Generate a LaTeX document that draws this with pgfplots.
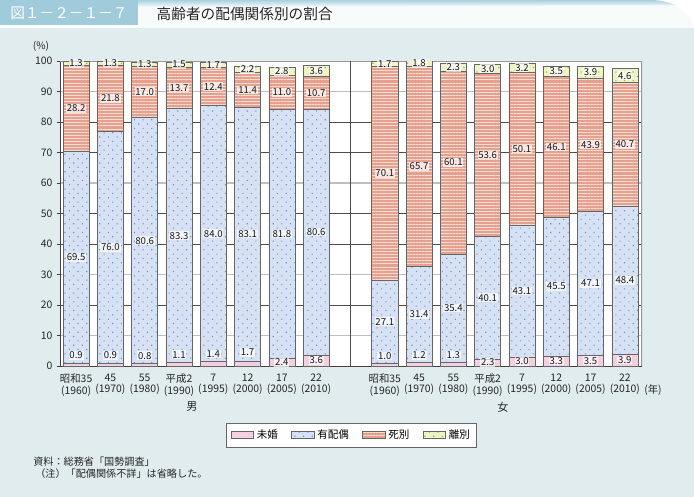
\documentclass[border=0pt]{standalone}
\usepackage{fontspec}
\setmainfont{Noto Sans CJK JP}
\usepackage{pgfplots}
\pgfplotsset{compat=1.18}
\usepackage{pgfplotstable}
\usetikzlibrary{patterns.meta}

\definecolor{panelbg}{HTML}{E1ECEF}
\definecolor{titlebox}{HTML}{9FCBDA}
\definecolor{bandblue}{HTML}{A9D2DE}
\definecolor{cMi}{HTML}{F3D0E0}
\definecolor{cYu}{HTML}{D6E2F4}
\definecolor{cYuDot}{HTML}{6F90D5}
\definecolor{cShi}{HTML}{E5A08E}
\definecolor{cShiLine}{HTML}{F8DDD5}
\definecolor{cRi}{HTML}{EFF4C6}
\definecolor{cRiDot}{HTML}{8DB83A}

\pgfplotstableread{
x  mi  yu   shi  ri
0  0.9 69.5 28.2 1.3
1  0.9 76.0 21.8 1.3
2  0.8 80.6 17.0 1.3
3  1.1 83.3 13.7 1.5
4  1.4 84.0 12.4 1.7
5  1.7 83.1 11.4 2.2
6  2.4 81.8 11.0 2.8
7  3.6 80.6 10.7 3.6
9  1.0 27.1 70.1 1.7
10 1.2 31.4 65.7 1.8
11 1.3 35.4 60.1 2.3
12 2.3 40.1 53.6 3.0
13 3.0 43.1 50.1 3.2
14 3.3 45.5 46.1 3.5
15 3.5 47.1 43.9 3.9
16 3.9 48.4 40.7 4.6
}\data

\pgfplotstableread{
x  y     l
0  3.5   0.9
1  3.5   0.9
2  3.4   0.8
3  3.7   1.1
4  4.0   1.4
5  4.4   1.7
6  1.2   2.4
7  1.8   3.6
9  3.3   1.0
10 3.5   1.2
11 3.6   1.3
12 1.15  2.3
13 1.5   3.0
14 1.65  3.3
15 1.75  3.5
16 1.95  3.9
0  35.65 69.5
1  38.9  76.0
2  41.1  80.6
3  42.75 83.3
4  43.4  84.0
5  43.25 83.1
6  43.3  81.8
7  43.9  80.6
9  14.55 27.1
10 16.9  31.4
11 19.0  35.4
12 22.35 40.1
13 24.55 43.1
14 26.05 45.5
15 27.05 47.1
16 28.1  48.4
0  84.5  28.2
1  87.8  21.8
2  89.9  17.0
3  91.25 13.7
4  91.6  12.4
5  90.5  11.4
6  89.7  11.0
7  89.55 10.7
9  63.15 70.1
10 65.45 65.7
11 66.75 60.1
12 69.2  53.6
13 71.15 50.1
14 71.85 46.1
15 72.55 43.9
16 72.65 40.7
0  99.25 1.3
1  99.35 1.3
2  99.05 1.3
3  98.85 1.5
4  98.65 1.7
5  97.3  2.2
6  96.6  2.8
7  96.7  3.6
9  99.05 1.7
10 99.2  1.8
11 97.95 2.3
12 97.5  3.0
13 97.8  3.2
14 96.65 3.5
15 96.45 3.9
16 95.2  4.6
}\labels

\begin{document}
\begin{tikzpicture}
\begin{scope}[x=0.75pt,y=-0.75pt]
\useasboundingbox (0,0) rectangle (694,497);
\fill[white] (0,0) rectangle (694,497);
\fill[panelbg] (0,28) rectangle (694,497);
\fill[white!92!bandblue] (138,0) -- (650,0) .. controls (675,0) and (690,12) .. (694,28) -- (138,28) -- cycle;
\shade[top color=bandblue, bottom color=white!92!bandblue] (138,0) -- (650,0) .. controls (660,0) and (668,2) .. (675,5) -- (138,7) -- cycle;
\fill[titlebox] (0,0) rectangle (138,25);
\node[text=white, font=\fontsize{11}{12}\selectfont, anchor=center] at (69,13) {図１－２－１－７};
\node[text=black!85, font=\fontsize{11}{12}\selectfont, anchor=west] at (152,13.5) {高齢者の配偶関係別の割合};
\node[font=\fontsize{7.6}{9}\selectfont, text=black!85] at (41,46) {(\%)};
\node[font=\fontsize{8.3}{9}\selectfont, text=black!85] at (192,407) {男};
\node[font=\fontsize{8.3}{9}\selectfont, text=black!85] at (503,407) {女};
\node[font=\fontsize{7.8}{9}\selectfont, text=black!85] at (653,390) {(年)};
\node[font=\fontsize{7.6}{9}\selectfont, text=black!85, anchor=west, inner sep=0pt] at (33,462) {資料：総務省「国勢調査」};
\node[font=\fontsize{7.6}{9}\selectfont, text=black!85, anchor=west, inner sep=0pt] at (35,474) {（注）「配偶関係不詳」は省略した。};
\end{scope}

\begin{axis}[
  at={(45pt,-274.5pt)}, anchor=south west,
  scale only axis, width=436.5pt, height=228.75pt,
  xmin=-0.47, xmax=16.5, ymin=0, ymax=100,
  stack plots=y,
  axis background/.style={fill=white},
  axis line style={draw=none},
  ytick={0,10,...,100}, ytick pos=left, tick align=outside,
  major tick length=2.2pt,
  ytick style={draw=black!75, line width=0.45pt},
  yticklabel style={font=\fontsize{7.8}{9}\selectfont, text=black!85},
  /pgf/number format/assume math mode=true,
  xtick={0,1,2,3,4,5,6,7,9,10,11,12,13,14,15,16},
  xticklabels={{昭和35\\(1960)},{45\\(1970)},{55\\(1980)},{平成2\\(1990)},{7\\(1995)},{12\\(2000)},{17\\(2005)},{22\\(2010)},
               {昭和35\\(1960)},{45\\(1970)},{55\\(1980)},{平成2\\(1990)},{7\\(1995)},{12\\(2000)},{17\\(2005)},{22\\(2010)}},
  xtick style={draw=none},
  xticklabel style={align=center, font=\fontsize{7.8}{8.8}\selectfont, text=black!85},
  ymajorgrids, major grid style={black!70, line width=0.45pt},
  extra y ticks={10,30,60,90}, extra y tick labels={},
  extra y tick style={major grid style={black!25, line width=1.1pt}},
  legend style={at={(0.501,-0.226)}, anchor=center, legend columns=4,
    draw=black!60, fill=white, line width=0.5pt,
    font=\fontsize{7.9}{9}\selectfont, inner xsep=3pt, inner ysep=3pt,
    /tikz/every even column/.append style={column sep=8pt}},
  legend cell align=left,
]
\addplot[ybar, bar width=0.76, fill=cMi, draw=black!60, line width=0.4pt, forget plot]
  table[x=x,y=mi]{\data};
\addplot[ybar, bar width=0.76, fill=cYu, draw=black!60, line width=0.4pt, forget plot,
  postaction={pattern color=cYuDot, pattern={Dots[distance=4.6pt,radius=0.6pt,angle=45]}}]
  table[x=x,y=yu]{\data};
\addplot[ybar, bar width=0.76, fill=cShi, draw=black!60, line width=0.4pt, forget plot,
  postaction={pattern color=cShiLine, pattern={Lines[angle=0,distance=2.3pt,line width=0.7pt]}}]
  table[x=x,y=shi]{\data};
\addplot[ybar, bar width=0.76, fill=cRi, draw=black!60, line width=0.4pt, forget plot,
  postaction={pattern color=cRiDot, pattern={Dots[distance=4.6pt,radius=0.6pt,angle=45]}}]
  table[x=x,y=ri]{\data};

\addlegendimage{area legend, fill=cMi, draw=black!60}
\addlegendentry{未婚}
\addlegendimage{area legend, fill=cYu, draw=black!60, postaction={pattern color=cYuDot, pattern={Dots[distance=4.6pt,radius=0.6pt,angle=45]}}}
\addlegendentry{有配偶}
\addlegendimage{area legend, fill=cShi, draw=black!60, postaction={pattern color=cShiLine, pattern={Lines[angle=0,distance=2.3pt,line width=0.7pt]}}}
\addlegendentry{死別}
\addlegendimage{area legend, fill=cRi, draw=black!60, postaction={pattern color=cRiDot, pattern={Dots[distance=4.6pt,radius=0.6pt,angle=45]}}}
\addlegendentry{離別}

\draw[black!70, line width=0.45pt] (axis cs:8,0) -- (axis cs:8,100);
\draw[black!40, line width=0.9pt] (rel axis cs:0,1) -- (rel axis cs:1,1) -- (rel axis cs:1,0);
\draw[black!75, line width=0.5pt] (rel axis cs:0,1) -- (rel axis cs:0,0) -- (rel axis cs:1,0);
\end{axis}

\begin{axis}[
  at={(45pt,-274.5pt)}, anchor=south west,
  scale only axis, width=436.5pt, height=228.75pt,
  xmin=-0.47, xmax=16.5, ymin=0, ymax=100,
  hide axis, clip=false,
]
\addplot[draw=none, mark=none, nodes near coords, point meta=explicit symbolic,
  every node near coord/.append style={anchor=center, font=\fontsize{7.2}{8}\selectfont,
    text=black!90, fill=white, fill opacity=0.7, text opacity=1, inner sep=0.6pt}]
  table[x=x,y=y,meta=l]{\labels};
\end{axis}
\end{tikzpicture}
\end{document}
